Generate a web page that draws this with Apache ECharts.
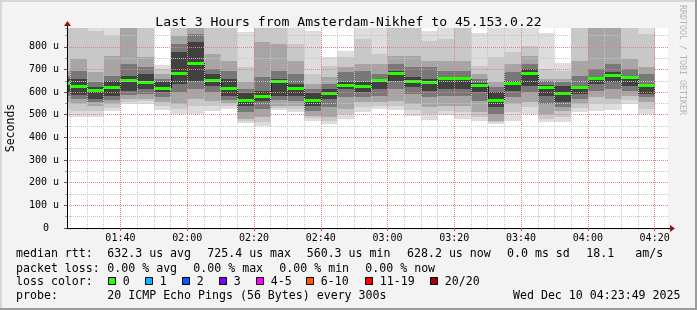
<!DOCTYPE html>
<html><head><meta charset="utf-8">
<script src="https://cdn.jsdelivr.net/npm/echarts@6/dist/echarts.min.js"></script>
<style>html,body{margin:0;padding:0;background:#f3f3f3;}#c{width:697px;height:310px;}</style>
</head><body><div id="c"></div>
<script>
// ---- data ----
const times = ['01:20','01:25','01:30','01:35','01:40','01:45','01:50','01:55','02:00','02:05','02:10','02:15','02:20','02:25','02:30','02:35','02:40','02:45','02:50','02:55','03:00','03:05','03:10','03:15','03:20','03:25','03:30','03:35','03:40','03:45','03:50','03:55','04:00','04:05','04:10','04:15'];
// smoke bands, microseconds (outermost = 1, innermost = 5)
const hi1 = [883,883,883,883,883,883,721,883,883,883,883,864,883,883,883,871,753,783,883,883,883,883,868,883,883,859,883,883,883,859,727,883,883,883,883,883];
const hi2 = [883,883,868,849,883,883,702,883,883,883,883,709,883,883,812,680,717,753,834,768,883,883,827,834,883,717,753,776,805,702,695,883,883,883,883,857];
const hi3 = [695,746,687,761,883,753,680,849,883,768,739,643,820,812,739,636,665,709,724,724,761,761,739,739,739,680,643,724,761,658,658,739,883,883,746,709];
const hi4 = [673,695,643,673,724,709,658,812,857,702,695,614,665,695,680,614,636,687,695,680,724,709,709,695,695,658,621,687,724,647,643,673,702,724,702,680];
const hi5 = [658,658,621,650,673,680,643,776,820,680,658,596,606,658,636,596,614,643,643,658,695,665,658,665,665,639,599,650,702,633,625,628,665,687,673,636];
const med = [639,624,605,619,653,644,618,684,727,653,617,562,581,649,618,565,593,631,624,650,681,645,641,658,661,627,565,636,680,621,592,621,659,674,664,630];
const lo5 = [599,587,570,584,606,614,599,636,650,628,584,540,559,584,584,540,570,614,599,614,650,621,606,614,614,599,533,606,628,584,555,592,636,643,628,592];
const lo4 = [584,570,555,565,589,592,580,599,614,599,565,511,525,565,562,518,533,577,577,584,614,592,577,584,584,562,503,577,599,548,533,570,606,614,606,577];
const lo3 = [555,548,540,548,570,570,555,548,570,562,550,481,489,540,540,496,489,525,555,555,562,548,533,540,540,511,474,548,555,503,515,548,577,570,584,555];
const lo2 = [525,518,515,530,558,559,537,525,540,537,540,471,470,530,525,484,474,503,533,540,540,521,503,518,511,489,467,511,533,481,489,530,548,548,565,525];
const lo1 = [489,489,492,515,548,548,521,503,503,515,525,464,452,521,511,474,459,481,511,525,521,496,478,500,481,471,459,471,503,467,467,511,518,521,548,503];
const stepMinutes = 5;
const xMin = '01:24', xMax = '04:24';
const yMax = 883;

const title = 'Last 3 Hours from Amsterdam-Nikhef to 45.153.0.22';
const yName = 'Seconds';
const statsMedian = ['632.3 us avg','725.4 us max','560.3 us min','628.2 us now','0.0 ms sd','18.1','am/s'];
const statsLoss = ['0.00 % avg','0.00 % max','0.00 % min','0.00 % now'];
const lossLabels = ['0','1','2','3','4-5','6-10','11-19','20/20'];
const lossColors = ['#26ff00','#00b8ff','#0059ff','#7e00ff','#ff00ff','#ff5500','#ff0000','#a10000'];
const probeText = '20 ICMP Echo Pings (56 Bytes) every 300s';
const stampText = 'Wed Dec 10 04:23:49 2025';
const watermark = 'RRDTOOL / TOBI OETIKER';

// ---- styles ----
const FONT = '"DejaVu Sans Mono", monospace';
const bandColors = ['#dddddd','#c8c8c8','#a6a6a6','#787878','#414141'];
const medColor = lossColors[0];

const toMin = t => { const p = t.split(':').map(Number); return p[0]*60 + p[1]; };
const fmtMin = m => { const h = Math.floor(m/60), mm = Math.round(m%60); return String(h).padStart(2,'0') + ':' + String(mm).padStart(2,'0'); };

const data = times.map((t, i) => [toMin(t), toMin(t) + stepMinutes,
  lo1[i], lo2[i], lo3[i], lo4[i], lo5[i], hi5[i], hi4[i], hi3[i], hi2[i], hi1[i],
  med[i], i > 0 ? med[i-1] : med[i], i]);

function renderItem(params, api) {
  const cs = params.coordSys;
  const x0 = api.value(0), x1 = api.value(1);
  const children = [];
  for (let k = 0; k < 5; k++) {
    const lo = api.value(2 + k), hi = api.value(11 - k);
    const a = api.coord([x0, hi]), b = api.coord([x1, lo]);
    const xa = Math.round(a[0]), xb = Math.round(b[0]), ya = Math.round(a[1]), yb = Math.round(b[1]);
    const r = echarts.graphic.clipRectByRect({x: xa, y: ya, width: xb - xa, height: yb - ya}, cs);
    if (r) children.push({type: 'rect', shape: r, style: {fill: bandColors[k]}});
  }
  const m = api.value(12), pm = api.value(13), idx = api.value(14);
  const pa = api.coord([x0, m]), pb = api.coord([x1, m]);
  if (idx > 0) {
    const pp = api.coord([x0, pm]);
    const xs = Math.round(pa[0]) + 0.5;
    if (xs > cs.x) children.push({type: 'line', shape: {x1: xs, y1: Math.round(pp[1]), x2: xs, y2: Math.round(pa[1])}, style: {stroke: '#1a1a1a', lineWidth: 1}});
  }
  const mr = echarts.graphic.clipRectByRect({x: Math.round(pa[0]), y: Math.round(pa[1] - 1.5), width: Math.round(pb[0]) - Math.round(pa[0]), height: 3}, cs);
  if (mr) children.push({type: 'rect', shape: mr, style: {fill: medColor}});
  return {type: 'group', children};
}

const chart = echarts.init(document.getElementById('c'), null, {renderer: 'canvas'});
const majorGrid = {color: 'rgba(240,80,80,0.55)', type: [1,1], width: 1};
const minorGrid = {color: '#c6c6c6', type: [1,1], width: 1};
const txt = {fontFamily: FONT, fontSize: 11.6, fill: '#000', verticalAlign: 'middle'};

const graphics = [];
// frame
graphics.push({type:'rect', shape:{x:0,y:0,width:697,height:2}, style:{fill:'#d6d6d6'}, silent:true});
graphics.push({type:'rect', shape:{x:0,y:0,width:2,height:310}, style:{fill:'#d6d6d6'}, silent:true});
graphics.push({type:'rect', shape:{x:0,y:308,width:697,height:2}, style:{fill:'#9c9c9c'}, silent:true});
graphics.push({type:'rect', shape:{x:695,y:0,width:2,height:310}, style:{fill:'#9c9c9c'}, silent:true});
// watermark
graphics.push({type:'text', x:686, y:5, rotation:-Math.PI/2, style:{text: watermark, fontFamily: FONT, fontSize: 8.3, fill:'#b4b4b4', verticalAlign:'top', align:'left'}});
// legend rows
const row1X = [107.3, 207.3, 306.7, 407, 507, 586.3, 635.3];
graphics.push({type:'text', x:16, y:254, style:Object.assign({text:'median rtt:'}, txt)});
statsMedian.forEach((s, i) => graphics.push({type:'text', x: row1X[i], y:254, style:Object.assign({text:s}, txt)}));
const row2X = [107.3, 193.3, 279.3, 365.3];
graphics.push({type:'text', x:16, y:268.5, style:Object.assign({text:'packet loss:'}, txt)});
statsLoss.forEach((s, i) => graphics.push({type:'text', x: row2X[i], y:268.5, style:Object.assign({text:s}, txt)}));
const swX = [108.5, 145.5, 182.5, 219.5, 256.5, 306.5, 365.5, 430.5];
graphics.push({type:'text', x:16, y:282.3, style:Object.assign({text:'loss color:'}, txt)});
lossLabels.forEach((s, i) => {
  graphics.push({type:'rect', shape:{x: swX[i], y: 277.5, width: 7, height: 7}, style:{fill: lossColors[i], stroke:'#000', lineWidth:1}});
  graphics.push({type:'text', x: swX[i] + 14.3, y:282.3, style:Object.assign({text:s}, txt)});
});
graphics.push({type:'text', x:16, y:296.3, style:Object.assign({text:'probe:'}, txt)});
graphics.push({type:'text', x:107.3, y:296.3, style:Object.assign({text:probeText}, txt)});
graphics.push({type:'text', x:680.5, y:296.3, style:Object.assign({text:stampText, align:'right'}, txt)});

chart.setOption({
  animation: false,
  backgroundColor: '#f3f3f3',
  title: {text: title, left: 'center', top: 11, textStyle: {fontFamily: FONT, fontSize: 13.1, fontWeight: 'normal', color: '#000'}},
  grid: {left: 67, right: 29, top: 28, bottom: 82, show: true, backgroundColor: '#ffffff', borderWidth: 0,
         containLabel: false, outerBoundsMode: 'none'},
  xAxis: [
    {type: 'value', min: toMin(xMin), max: toMin(xMax), splitNumber: 9, minInterval: 20, maxInterval: 20, z: 6,
     axisLine: {show: true, onZero: false, lineStyle: {color: '#000', width: 1}},
     axisTick: {show: true, length: 3, lineStyle: {color: 'rgba(230,40,40,0.8)'}},
     axisLabel: {formatter: fmtMin, showMinLabel: false, showMaxLabel: false, fontFamily: FONT, fontSize: 10, color: '#000', margin: 5},
     splitLine: {show: true, showMinLine: false, showMaxLine: false, lineStyle: majorGrid}},
    {type: 'value', min: toMin(xMin), max: toMin(xMax), splitNumber: 36, minInterval: 5, maxInterval: 5, z: 5, position: 'bottom',
     axisLine: {show: false}, axisTick: {show: true, length: 2, lineStyle: {color: '#bbbbbb'}}, axisLabel: {show: false},
     splitLine: {show: true, showMinLine: false, showMaxLine: false, lineStyle: minorGrid}}
  ],
  yAxis: [
    {type: 'value', min: 0, max: yMax, interval: 100, z: 6,
     name: yName, nameLocation: 'middle', nameGap: 50, nameTextStyle: {fontFamily: FONT, fontSize: 11.5, color: '#000'},
     axisLine: {show: true, lineStyle: {color: '#000', width: 1}},
     axisTick: {show: true, length: 3, lineStyle: {color: '#555'}},
     axisLabel: {showMaxLabel: false, margin: 8, fontFamily: FONT, fontSize: 10, color: '#000',
       formatter: v => v === 0 ? '{z|0}' : v + ' u',
       rich: {z: {fontFamily: FONT, fontSize: 10, color: '#000', padding: [0, 10, 0, 0]}}},
     splitLine: {show: true, showMinLine: false, showMaxLine: false, lineStyle: majorGrid}},
    {type: 'value', min: 0, max: yMax, interval: 50, z: 5, position: 'left', offset: 0,
     axisLine: {show: false}, axisTick: {show: true, length: 2, lineStyle: {color: '#999'}}, axisLabel: {show: false},
     splitLine: {show: true, showMinLine: false, showMaxLine: false, lineStyle: minorGrid}}
  ],
  series: [{
    type: 'custom', xAxisIndex: 0, yAxisIndex: 0, renderItem: renderItem, data: data,
    encode: {x: [0, 1], y: [2, 11]}, z: 2, silent: true
  }],
  graphic: graphics
});

// axis arrows placed from the axis scales
const yTop = chart.convertToPixel({yAxisIndex: 0}, yMax);
const y0 = chart.convertToPixel({yAxisIndex: 0}, 0);
const xL = chart.convertToPixel({xAxisIndex: 0}, toMin(xMin));
const xR = chart.convertToPixel({xAxisIndex: 0}, toMin(xMax));
graphics.push({type:'line', shape:{x1: Math.round(xL)+0.5, y1: yTop, x2: Math.round(xL)+0.5, y2: yTop-2}, style:{stroke:'#000', lineWidth:1}, z: 10});
graphics.push({type:'polygon', shape:{points:[[xL-3, yTop-2],[xL+4, yTop-2],[xL+0.5, yTop-7]]}, style:{fill:'#9b1010'}, z: 10});
graphics.push({type:'line', shape:{x1: xR, y1: Math.round(y0)+0.5, x2: xR+2, y2: Math.round(y0)+0.5}, style:{stroke:'#000', lineWidth:1}, z: 10});
graphics.push({type:'polygon', shape:{points:[[xR+2, y0-3],[xR+2, y0+4],[xR+7, y0+0.5]]}, style:{fill:'#9b1010'}, z: 10});
chart.setOption({graphic: graphics});
</script>
</body></html>
